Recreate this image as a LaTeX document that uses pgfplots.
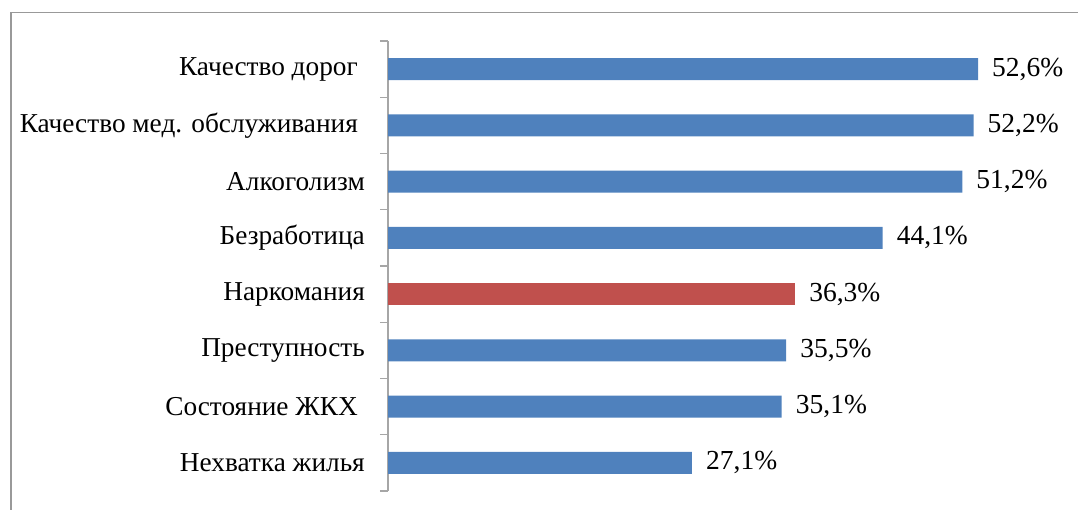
\documentclass[border=0pt]{standalone}
\usepackage{pgfplots}
\pgfplotsset{compat=1.18}
\usepackage{fontspec}
\setmainfont{Liberation Serif}
\definecolor{barblue}{HTML}{4F81BD}
\definecolor{barred}{HTML}{C0504D}
\definecolor{axgray}{HTML}{A6A6A6}
\begin{document}
\begin{tikzpicture}[x=1pt,y=1pt]
\path[use as bounding box] (0,0) rectangle (1078,-510);
\draw[color=gray!80, line width=1.5pt] (11,-520) -- (11,-12.5) -- (1090,-12.5);
\begin{axis}[
  at={(388pt,-491pt)}, anchor=south west,
  scale only axis, width=673pt, height=450pt,
  xmin=0, xmax=60,
  ymin=-0.5, ymax=7.5,
  hide x axis,
  axis y line*=left,
  y axis line style={draw=axgray, line width=1.3pt, -},
  ytick={0,...,7},
  yticklabels={Нехватка жилья, Состояние ЖКХ\kern7pt, Преступность, Наркомания, Безработица, Алкоголизм, Качество мед. обслуживания\kern7pt, Качество дорог\kern7pt},
  major tick length=0pt,
  minor ytick={-0.5,0.5,...,7.5},
  minor tick length=8pt,
  tick align=outside,
  minor tick style={draw=axgray, line width=1.3pt},
  yticklabel style={font=\fontsize{27.3}{31}\selectfont, anchor=east, inner sep=0pt, xshift=-23pt},
  xbar, bar width=22pt, bar shift=0pt,
  nodes near coords={\pgfmathprintnumber{\pgfplotspointmeta}\%},
  nodes near coords style={font=\fontsize{27.5}{31}\selectfont, anchor=west, inner sep=0pt, xshift=14pt, text=black,
    /pgf/number format/.cd, fixed, fixed zerofill, precision=1, use comma, assume math mode=true},
  point meta=explicit,
  clip=false,
]
\addplot[fill=barblue, draw=none] coordinates {
 (52.6,7) [52.6]
 (52.2,6) [52.2]
 (51.2,5) [51.2]
 (44.1,4) [44.1]
 (35.5,2) [35.5]
 (35.1,1) [35.1]
 (27.1,0) [27.1]
};
\addplot[fill=barred, draw=none] coordinates {
 (36.3,3) [36.3]
};
\end{axis}
\end{tikzpicture}
\end{document}
